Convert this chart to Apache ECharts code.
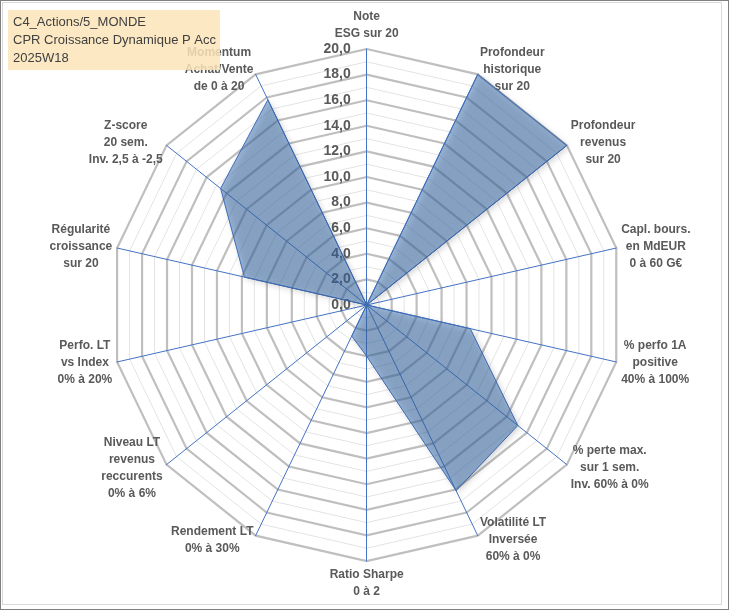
<!DOCTYPE html>
<html>
<head>
<meta charset="utf-8">
<script src="https://cdn.jsdelivr.net/npm/echarts@6/dist/echarts.min.js"></script>
<style>
  html, body { margin: 0; padding: 0; background: #ffffff; }
  #frame { position: absolute; left: 0; top: 0; width: 727px; height: 608px; border: 1px solid #7f7f7f; }
  #inner { position: absolute; left: 2px; top: 2px; width: 718px; height: 601px; border: 1px solid #d9d9d9; }
  #chart { position: absolute; left: 0; top: 0; width: 729px; height: 610px; }
</style>
</head>
<body>
<div id="frame"></div>
<div id="inner"></div>
<div id="chart"></div>
<script>
// ---- Data ----
const titleLines = ['C4_Actions/5_MONDE', 'CPR Croissance Dynamique P Acc', '2025W18'];
const axisNames = [
  'Note\nESG sur 20',
  'Profondeur\nhistorique\nsur 20',
  'Profondeur\nrevenus\nsur 20',
  'Capl. bours.\nen MdEUR\n0 à 60 G€',
  '% perfo 1A\npositive\n40% à 100%',
  '% perte max.\nsur 1 sem.\nInv. 60% à 0%',
  'Volatilité LT\nInversée\n60% à 0%',
  'Ratio Sharpe\n0 à 2',
  'Rendement LT\n0% à 30%',
  'Niveau LT\nrevenus\nreccurents\n0% à 6%',
  'Perfo. LT\nvs Index\n0% à 20%',
  'Régularité\ncroissance\nsur 20',
  'Z-score\n20 sem.\nInv. 2,5 à -2,5',
  'Momentum\nAchat/Vente\nde 0 à 20'
];
const scoreValues = [0, 20, 20, 0, 8.3, 15.1, 16.1, 4.0, 2.7, 0, 0, 9.8, 14.6, 17.8];
const axisMax = 20;
const axisMin = 0;

// ---- Chart ----
// ECharts lays radar indicators counter-clockwise; the reference runs clockwise,
// so indicators (and values) are fed in the order 0, n-1, n-2, ..., 1.
const order = [0];
for (let i = axisNames.length - 1; i >= 1; i--) order.push(i);

const chart = echarts.init(document.getElementById('chart'), null, { renderer: 'canvas' });
const CENTER = [366.7, 305];
const RADIUS = 256;
const FONT = 'Liberation Sans, Arial, sans-serif';

const thinIndicators = order.map(i => ({ name: axisNames[i], max: axisMax, min: axisMin }));
const thickIndicators = order.map((i, k) => ({
  name: axisNames[i], max: axisMax, min: axisMin,
  axisLabel: { show: k === 0 }
}));
const orderedValues = order.map(i => scoreValues[i]);

const option = {
  animation: false,
  backgroundColor: 'transparent',
  title: {
    text: titleLines.join('\n'),
    left: 8, top: 10,
    padding: [3, 4, 3, 5],
    backgroundColor: 'rgba(252,229,185,0.85)',
    z: 10,
    textStyle: { fontFamily: FONT, fontSize: 13, fontWeight: 'normal', color: '#404040', lineHeight: 18 }
  },
  radar: [
    {
      center: CENTER, radius: RADIUS, startAngle: 90,
      shape: 'polygon', splitNumber: 20,
      indicator: thinIndicators,
      axisName: { show: false },
      axisLine: { show: false },
      axisTick: { show: false },
      axisLabel: { show: false },
      splitArea: { show: false },
      splitLine: { lineStyle: { color: '#e3e3e3', width: 1 } }
    },
    {
      center: CENTER, radius: RADIUS, startAngle: 90,
      shape: 'polygon', splitNumber: 10,
      indicator: thickIndicators,
      nameGap: 5,
      axisName: {
        color: '#595959', fontFamily: FONT, fontSize: 12, fontWeight: 'bold', lineHeight: 17,
        formatter: function (value) {
          return String(value).split('\n').map(l => '{c|' + l + '}').join('\n');
        },
        rich: {
          c: { align: 'center', color: '#595959', fontFamily: FONT, fontSize: 12, fontWeight: 'bold', lineHeight: 17 }
        }
      },
      axisLine: { show: true, lineStyle: { color: '#4472C4', width: 1 } },
      axisTick: { show: false },
      axisLabel: {
        show: false,
        color: '#595959', fontFamily: FONT, fontSize: 14, fontWeight: 'bold',
        margin: 16,
        showMinLabel: true, showMaxLabel: true,
        formatter: function (v) { return Number(v).toFixed(1).replace('.', ','); }
      },
      splitArea: { show: false },
      splitLine: { lineStyle: { color: '#bfbfbf', width: 2.2 } }
    }
  ],
  series: [{
    type: 'radar',
    radarIndex: 1,
    symbol: 'none',
    z: 3,
    data: [{
      value: orderedValues,
      name: 'Score',
      lineStyle: { color: '#4472C4', width: 1 },
      areaStyle: { color: 'rgba(58,110,176,0.72)', shadowBlur: 6, shadowColor: 'rgba(0,0,0,0.35)', shadowOffsetX: 2, shadowOffsetY: 2 }
    }]
  }]
};
chart.setOption(option);
</script>
</body>
</html>
